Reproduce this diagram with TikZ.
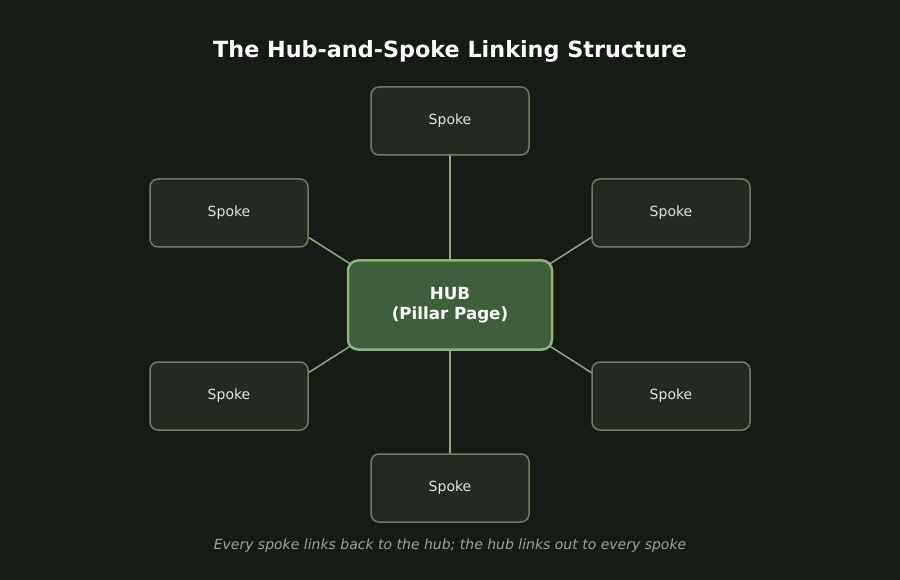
\documentclass[tikz,border=0pt]{standalone}
\usepackage{fontspec}
\setmainfont{DejaVu Sans}
\usetikzlibrary{positioning}
\definecolor{bgcol}{HTML}{161B15}
\definecolor{spokefill}{HTML}{232A22}
\definecolor{spokedraw}{HTML}{6B7F5E}
\definecolor{hubfill}{HTML}{3F5F3C}
\definecolor{hubdraw}{HTML}{8FB37A}
\definecolor{linkcol}{HTML}{8FA882}
\definecolor{spoketext}{HTML}{E0E6DC}
\definecolor{notecol}{HTML}{9AA590}
\tikzset{
  spoke/.style={draw=spokedraw, fill=spokefill, line width=1.5pt, rounded corners=8pt,
    minimum width=158pt, minimum height=68pt, text=spoketext,
    font=\fontsize{14}{16}\selectfont},
  hub/.style={draw=hubdraw, fill=hubfill, line width=2.5pt, rounded corners=10pt,
    minimum width=204pt, minimum height=89pt, text=white, align=center,
    font=\bfseries\fontsize{16.7}{20}\selectfont},
  link/.style={draw=linkcol, line width=1.5pt}
}
\begin{document}
\begin{tikzpicture}[x=1pt,y=-1pt]
  \fill[bgcol] (0,0) rectangle (900,580);
  \useasboundingbox (0,0) rectangle (900,580);
  \node[text=white, font=\bfseries\fontsize{22.3}{26}\selectfont] (title) at (450,51) {The Hub-and-Spoke Linking Structure};
  % links first, boxes drawn over them
  \coordinate (hubc) at (450,305);
  \draw[link] (450,121) -- (hubc) -- (450,488);
  \draw[link] (308,237) -- (352,265);
  \draw[link] (592,237) -- (548,265);
  \draw[link] (308,373) -- (352,345);
  \draw[link] (592,373) -- (548,345);
  \node[hub] (hub) at (hubc) {HUB\\(Pillar Page)};
  \node[spoke] (top) at (450,121) {Spoke};
  \node[spoke] (tl) at (229,213) {Spoke};
  \node[spoke] (tr) at (671,213) {Spoke};
  \node[spoke] (bl) at (229,396) {Spoke};
  \node[spoke] (br) at (671,396) {Spoke};
  \node[spoke] (bot) at (450,488) {Spoke};
  \node[text=notecol, font=\itshape\fontsize{14}{16}\selectfont] (note) at (450,546) {Every spoke links back to the hub; the hub links out to every spoke};
\end{tikzpicture}
\end{document}
